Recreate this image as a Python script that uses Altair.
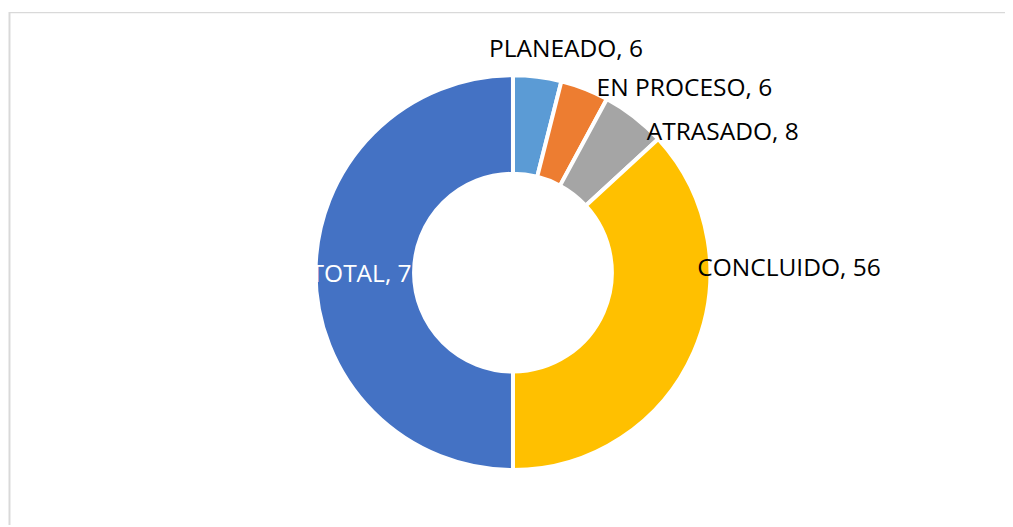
import altair as alt
import pandas as pd

categories = ["PLANEADO", "EN PROCESO", "ATRASADO", "CONCLUIDO", "TOTAL"]
values = [6, 6, 8, 56, 76]
colors = ["#5B9BD5", "#ED7D31", "#A5A5A5", "#FFC000", "#4472C4"]

df = pd.DataFrame({
    "cat": categories,
    "value": values,
    "idx": list(range(len(categories))),
    "label": [f"{c}, {v}" for c, v in zip(categories, values)],
})

CX, CY = 509, 264.7
R_OUT, R_IN = 199, 99.7
FONT = "Open Sans"

base = alt.Chart(df)

arc = base.mark_arc(stroke="white", strokeWidth=4).encode(
    theta=alt.Theta("value:Q", stack=True),
    order=alt.Order("idx:Q"),
    color=alt.Color("cat:N", scale=alt.Scale(domain=categories, range=colors), legend=None),
    x=alt.value(CX), y=alt.value(CY),
    radius=alt.value(R_OUT), radius2=alt.value(R_IN),
)

lab_base = base.transform_window(
    cum="sum(value)", sort=[alt.SortField("idx")], frame=[None, 0]
).transform_calculate(mid="datum.cum - datum.value / 2")

label_style = {
    "PLANEADO": (27.5, -16, "black"),
    "EN PROCESO": (96.5, 10.5, "black"),
    "ATRASADO": (82.5, 24.5, "black"),
    "CONCLUIDO": (86, -88, "black"),
    "TOTAL": (14, 2.5, "white"),
}

layers = [arc]
for cat, (dx, dy, col) in label_style.items():
    radius = 160 if cat == "TOTAL" else 210
    layers.append(
        lab_base.transform_filter(alt.datum.cat == cat).mark_text(
            font=FONT, fontSize=24.7, align="center", baseline="middle",
            dx=dx, dy=dy, color=col,
        ).encode(
            theta=alt.Theta("mid:Q", stack=False),
            text="label:N",
            x=alt.value(CX), y=alt.value(CY),
            radius=alt.value(radius),
        )
    )

frame_df = pd.DataFrame({"k": [0]})
left_rule = alt.Chart(frame_df).mark_rule(color="#d9d9d9", strokeWidth=2).encode(
    x=alt.value(1.5), y=alt.value(2), y2=alt.value(519)
)
top_rule = alt.Chart(frame_df).mark_rule(color="#d9d9d9", strokeWidth=1.2).encode(
    x=alt.value(1), x2=alt.value(1005), y=alt.value(2.5)
)
layers = [left_rule, top_rule] + layers

chart = alt.layer(*layers).properties(
    width=1005, height=519, padding=0,
    autosize=alt.AutoSizeParams(type="fit", contains="padding"),
    background="white",
).configure_view(stroke=None)

chart.save("out.html", embed_options={"renderer": "svg", "actions": False})
